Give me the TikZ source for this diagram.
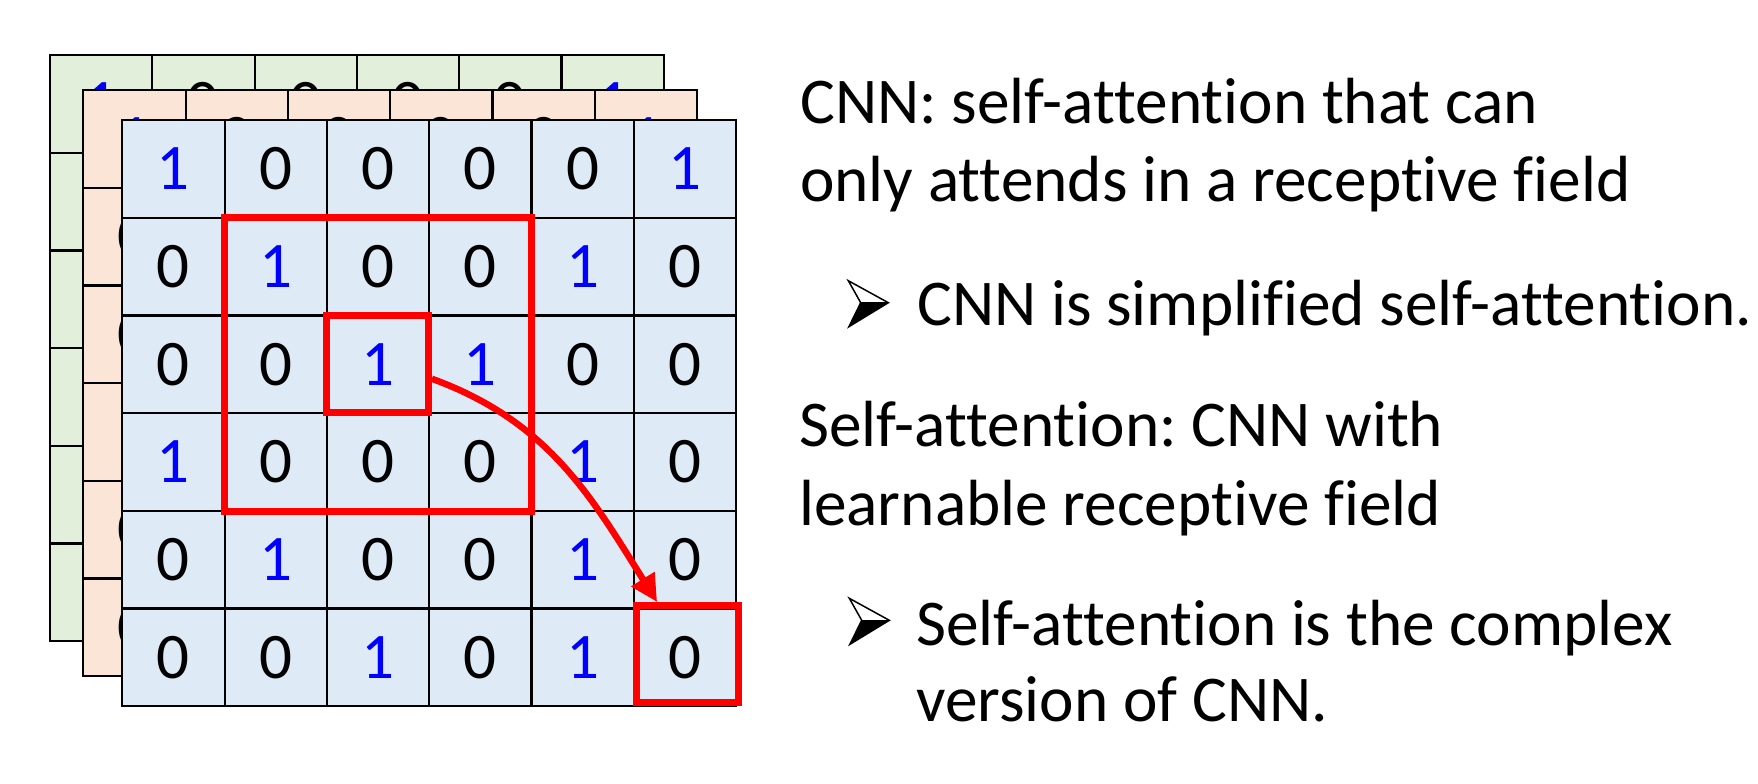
\documentclass[tikz,border=0pt]{standalone}
\usepackage{fontspec}
\setmainfont{Carlito}[Ligatures={NoCommon,NoContextual}]
\usetikzlibrary{arrows.meta}
\definecolor{lgreen}{HTML}{E2EFDA}
\definecolor{lorange}{HTML}{FBE5D6}
\definecolor{lblue}{HTML}{DEEBF7}
\definecolor{pureblue}{HTML}{0000FF}
\definecolor{purered}{HTML}{FF0000}
\newcommand\cellval[1]{\raisebox{-2.5pt}{\ifnum#1=1 \textcolor{pureblue}{1}\else 0\fi}}
\frenchspacing
\begin{document}
\begin{tikzpicture}[x=1pt,y=-1pt,
  cell/.style={draw=black, line width=2.2pt, minimum width=102.3pt, minimum height=97.7pt,
    inner sep=0pt, outer sep=0pt, font=\fontsize{65}{78}\selectfont},
  redbox/.style={draw=purered, line width=7pt, inner sep=0pt},
  txt/.style={anchor=base west, inner sep=0pt, font=\fontsize{65.3}{78}\selectfont},
  arrowbullet/.pic={
    \fill[black] (12.4,22) -- (40,22) -- (0.6,46) -- cycle;
    \draw[black, line width=1.5pt, line join=miter] (0,0) -- (40,22) -- (0.6,46) -- (12.4,22) -- cycle;
    \draw[black, line width=1.2pt] (12.4,22) -- (40,22);
  }]
\useasboundingbox (0,0) rectangle (1758,784);
\fill[white] (0,0) rectangle (1758,784);

\foreach \layer/\ox/\oy/\col in {g/50/55/lgreen, o/83.3/90/lorange, b/122.3/120/lblue} {
  \foreach \r/\vals in {0/{1,0,0,0,0,1}, 1/{0,1,0,0,1,0}, 2/{0,0,1,1,0,0},
                        3/{1,0,0,0,1,0}, 4/{0,1,0,0,1,0}, 5/{0,0,1,0,1,0}} {
    \foreach \v [count=\c from 0] in \vals {
      \node[cell, fill=\col] (\layer-\r-\c) at (\ox+\c*102.3+51.15, \oy+\r*97.7+48.85) {\cellval{\v}};
    }
  }
}

% red frames
\node[redbox, minimum width=307pt, minimum height=294pt] (big) at (377.9,364.5) {};
\node[redbox, minimum width=102.3pt, minimum height=96.8pt] (small) at (377.2,364.1) {};
\node[redbox, minimum width=102pt, minimum height=96.5pt] (target) at (687,653.75) {};

\draw[purered, line width=6.5pt, -{Triangle[length=27pt,width=26pt]}]
  (small.-15) to[out=-20, in=122] (target.120);

% text
\node[txt] (t1) at (800,123.3) {CNN: self-attention that can};
\node[txt] (t2) at (800,201) {only attends in a receptive field};
\pic at (848.3,280.7) {arrowbullet};
\node[txt] (t3) at (917,325) {CNN is simplified self-attention.};
\node[txt] (t4) at (799,446.7) {Self-attention: CNN with};
\node[txt] (t5) at (799,525) {learnable receptive field};
\pic at (849.3,598.3) {arrowbullet};
\node[txt] (t6) at (916,645) {Self-attention is the complex};
\node[txt] (t7) at (916,721.7) {version of CNN.};
\end{tikzpicture}
\end{document}
